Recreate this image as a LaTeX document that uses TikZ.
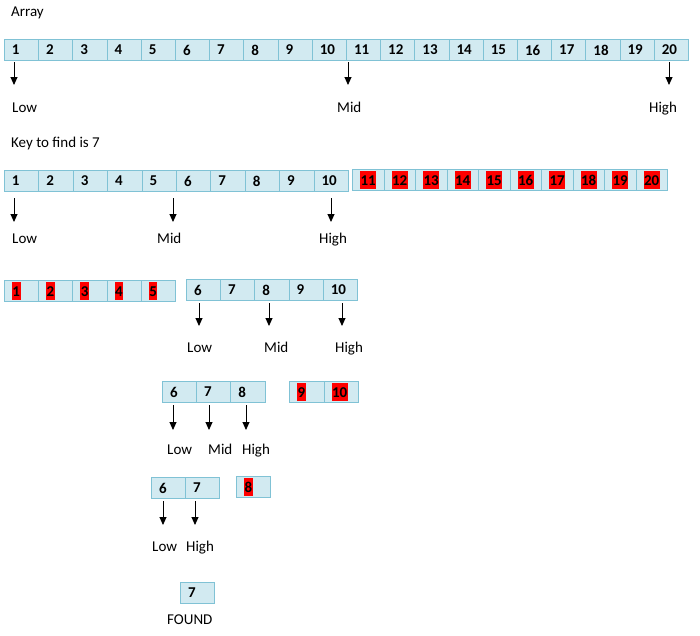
\documentclass[tikz,border=0pt]{standalone}
\usepackage{fontspec}
\setmainfont{Carlito}
\usetikzlibrary{arrows.meta, positioning}
\definecolor{cellfill}{RGB}{210,234,241}
\definecolor{celledge}{RGB}{128,194,213}
% red text highlight of a discarded value
\newcommand{\hl}[1]{{\setlength{\fboxsep}{0.5pt}\colorbox{red}{\rule[-3.5pt]{0pt}{17pt}#1}}}

\begin{document}
\begin{tikzpicture}[
  x=1pt, y=-1pt,
  every node/.style={font=\fontsize{15}{18}\selectfont},
  cell/.style={rectangle, draw=celledge, line width=1pt, fill=cellfill,
               anchor=north west, minimum height=21, inner xsep=7.5pt,
               inner ysep=0pt, text width=19.2pt, align=left,
               font=\fontsize{15}{18}\selectfont\bfseries},
  lbl/.style={anchor=base west, inner sep=0pt},
  arr/.style={-{Triangle[width=7pt, length=8pt]}, line width=0.9pt},
]
\useasboundingbox (0,0) rectangle (700,635);

\node[lbl] (title) at (11,16) {Array};
\node[lbl] (key) at (11,147) {Key to find is 7};

% full array
\foreach \i in {1,...,20}
  \node[cell] (a\i) at ({4+(\i-1)*34.2},39) {\i};
\foreach \c/\x/\t/\lx in {a1/14/Low/12, a11/348/Mid/337, a20/669/High/649} {
  \coordinate (p\c) at (\x,85);
  \draw[arr, shorten <=1pt] (\c.south -| p\c) -- (p\c);
  \node[lbl] (l\c) at (\lx,112) {\t};
}

% first split
\foreach \i in {1,...,10}
  \node[cell, text width=19.4pt] (b\i) at ({4+(\i-1)*34.4},170) {\i};
\foreach \i in {11,...,20}
  \node[cell, text width=16.5pt] (c\i) at ({352+(\i-11)*31.5},169) {\hl{\i}};
\foreach \c/\x/\t/\lx in {b1/14/Low/12, b6/173/Mid/157, b10/331/High/319} {
  \coordinate (p\c) at (\x,222);
  \draw[arr, shorten <=6pt] (\c.south -| p\c) -- (p\c);
  \node[lbl] (l\c) at (\lx,243) {\t};
}

% second split
\foreach \i in {1,...,5}
  \node[cell] (d\i) at ({4+(\i-1)*34.2},280) {\hl{\i}};
\foreach \i in {6,...,10}
  \node[cell] (e\i) at ({186+(\i-6)*34.2},279) {\i};
\foreach \c/\x/\t/\lx in {e6/199/Low/187, e8/269/Mid/264, e10/342/High/335} {
  \coordinate (p\c) at (\x,326);
  \draw[arr, shorten <=2pt] (\c.south -| p\c) -- (p\c);
  \node[lbl] (l\c) at (\lx,352) {\t};
}

% third split
\foreach \i in {6,...,8}
  \node[cell] (f\i) at ({162+(\i-6)*34.2},381) {\i};
\foreach \i in {9,10}
  \node[cell, text width=19.5pt] (g\i) at ({289+(\i-9)*34.5},381) {\hl{\i}};
\foreach \c/\x/\t/\lx in {f6/173/Low/167, f7/209/Mid/208, f8/246/High/242} {
  \coordinate (p\c) at (\x,430);
  \draw[arr, shorten <=2pt] (\c.south -| p\c) -- (p\c);
  \node[lbl] (l\c) at (\lx,454) {\t};
}

% fourth split
\foreach \i in {6,7}
  \node[cell, text width=19pt] (h\i) at ({151+(\i-6)*34},477) {\i};
\node[cell] (k8) at (236,476) {\hl{8}};
\foreach \c/\x/\t/\lx in {h6/163/Low/152, h7/195/High/186} {
  \coordinate (p\c) at (\x,525);
  \draw[arr, shorten <=2pt] (\c.south -| p\c) -- (p\c);
  \node[lbl] (l\c) at (\lx,551) {\t};
}

% result
\node[cell, text width=19pt] (found) at (180,582) {7};
\node[lbl] (foundlbl) at (167,624) {FOUND};
\end{tikzpicture}
\end{document}
